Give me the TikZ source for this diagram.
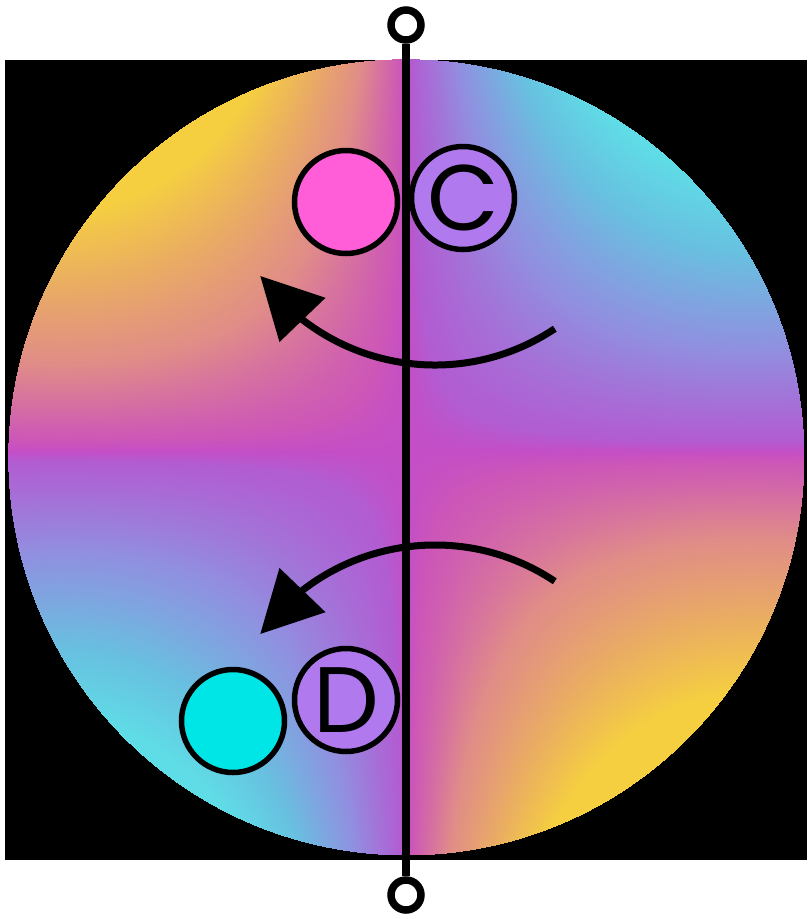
\documentclass[tikz,border=0pt]{standalone}
\usepackage{fontspec}
\usepackage{pgfplots}
\pgfplotsset{compat=1.18}
\newfontfamily\lblfont{Poppins}
\usetikzlibrary{arrows.meta,bending}
\definecolor{pinkdot}{RGB}{255,94,216}
\definecolor{purpdot}{RGB}{176,122,238}
\definecolor{cyandot}{RGB}{0,229,229}
\pgfplotsset{colormap={pol}{
  rgb255(0pt)=(95,223,230)
  rgb255(15pt)=(95,220,230)
  rgb255(40pt)=(104,192,224)
  rgb255(70pt)=(144,144,224)
  rgb255(97pt)=(178,92,210)
  rgb255(100pt)=(196,78,198)
  rgb255(103pt)=(204,86,184)
  rgb255(125pt)=(224,140,136)
  rgb255(150pt)=(234,173,98)
  rgb255(175pt)=(245,207,64)
  rgb255(200pt)=(245,207,64)}}
\tikzset{
  dot/.style={circle, draw=black, line width=5.5pt, minimum size=103pt, inner sep=0pt},
  term/.style={circle, draw=black, fill=white, line width=7.5pt, minimum size=30pt, inner sep=0pt},
  lbl/.style={font=\lblfont\fontsize{93}{93}\selectfont},
  axisline/.style={line width=7.5pt},
  turnarrow/.style={line width=7pt, -{Triangle[length=61pt,width=62pt,flex]}}
}
\begin{document}
\begin{tikzpicture}[x=1pt,y=1pt]
\useasboundingbox (0,0) rectangle (807,-919);
\fill[black] (5,-60) rectangle (807,-860);
\coordinate (O) at (406,-457);
\begin{scope}
\clip (O) circle[radius=398];
\begin{axis}[at={(O)}, anchor=center, scale only axis, width=796pt, height=796pt,
  xmin=-1, xmax=1, ymin=-1, ymax=1, hide axis, view={0}{90},
  colormap name=pol, point meta min=-1, point meta max=1]
\addplot3[surf, shader=interp, domain=-1:1, y domain=-1:1, samples=61]
  {max(-1,min(1,-2*x*(y-0.015)*(1-0.45*x^2+0.15*(y-0.015)^2)))};
\end{axis}
\end{scope}
% vertical axis
\node[term] (t1) at (406,-25) {};
\node[term] (t2) at (406,-895) {};
\draw[axisline] (t1) -- (t2);
% arrows
\coordinate (a1) at (554.8,-328.7);
\coordinate (a2) at (554.8,-581.3);
\draw[turnarrow] (a1) arc[start angle=-56.3, end angle=-144, radius=216];
\draw[turnarrow] (a2) arc[start angle=56.3, end angle=144, radius=216];
% dots
\node[dot, fill=pinkdot] (pk) at (346,-202) {};
\node[dot, fill=purpdot, lbl] (c) at (463,-198) {C};
\node[dot, fill=purpdot, lbl] (d) at (346,-700) {D};
\node[dot, fill=cyandot] (cy) at (233,-721) {};
\end{tikzpicture}
\end{document}
